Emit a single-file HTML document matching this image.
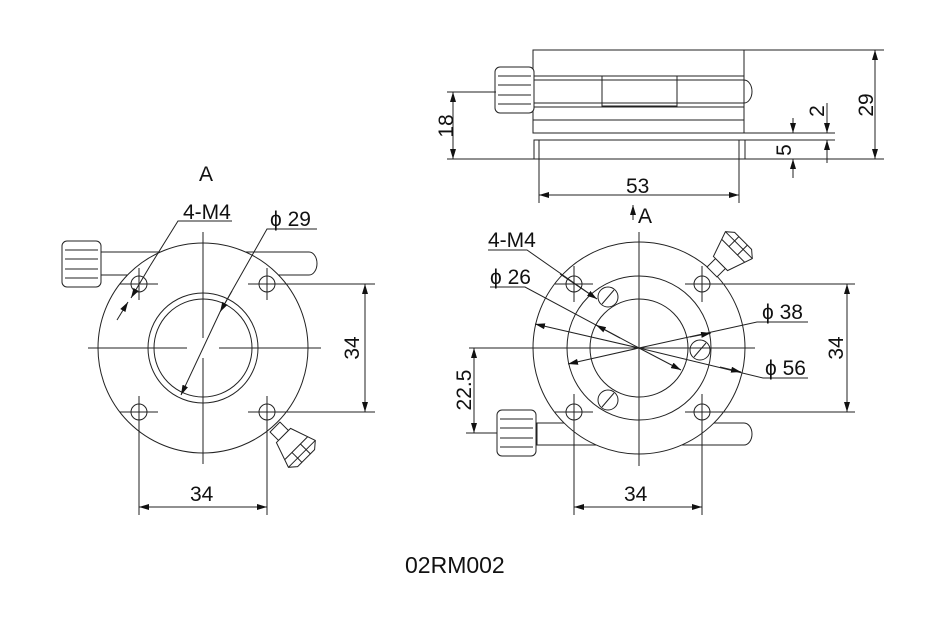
<!DOCTYPE html>
<html><head><style>body{margin:0;background:#fff}svg{display:block}text{font-family:"Liberation Sans",Arial,sans-serif;fill:#111}</style></head><body>
<svg width="945" height="630" viewBox="0 0 945 630" xmlns="http://www.w3.org/2000/svg">
<defs>
<marker id="a" viewBox="0 0 10 6" refX="10" refY="3" markerWidth="10" markerHeight="6" orient="auto-start-reverse" markerUnits="userSpaceOnUse"><path d="M0,0L10,3L0,6z" fill="#111"/></marker>
<g id="knobH"><rect x="0" y="0" width="39" height="46" rx="5" fill="#fff" stroke="#222"/><line x1="3" y1="9" x2="36" y2="9" stroke="#222"/><line x1="3" y1="18" x2="36" y2="18" stroke="#222"/><line x1="3" y1="28" x2="36" y2="28" stroke="#222"/><line x1="3" y1="37" x2="36" y2="37" stroke="#222"/></g>
<g id="knobA"><rect x="0" y="-7" width="12" height="14" fill="#fff" stroke="#222"/><path d="M12,-10L12,10L38,19L44,12L44,-12L38,-19Z" fill="#fff" stroke="#222"/><line x1="30" y1="-16" x2="30" y2="16" stroke="#222"/><line x1="38" y1="-19" x2="38" y2="19" stroke="#222"/><line x1="30" y1="-6" x2="44" y2="-6" stroke="#222"/><line x1="30" y1="6" x2="44" y2="6" stroke="#222"/></g>
</defs>
<g fill="none" stroke="#222" stroke-width="1">
<rect x="533" y="50" width="211" height="83"/>
<rect x="534" y="140" width="211" height="19"/>
<line x1="533" y1="76" x2="744" y2="76"/><line x1="533" y1="107" x2="744" y2="107"/><line x1="533" y1="120" x2="744" y2="120"/>
<path d="M533,80H744A8,11.5 0 0 1 744,103H533"/>
<rect x="602" y="76" width="75" height="30"/>
<use href="#knobH" x="495" y="67"/>
<line x1="447" y1="92" x2="496" y2="92"/><line x1="447" y1="159" x2="884" y2="159"/><line x1="744" y1="50" x2="884" y2="50"/>
<line x1="744" y1="133" x2="835" y2="133"/><line x1="745" y1="140" x2="835" y2="140"/>
<line x1="453" y1="92" x2="453" y2="159" marker-start="url(#a)" marker-end="url(#a)"/>
<line x1="875" y1="50" x2="875" y2="159" marker-start="url(#a)" marker-end="url(#a)"/>
<line x1="793" y1="118" x2="793" y2="133" marker-end="url(#a)"/><line x1="793" y1="178" x2="793" y2="159" marker-end="url(#a)"/>
<line x1="827" y1="103" x2="827" y2="133" marker-end="url(#a)"/><line x1="827" y1="163" x2="827" y2="140" marker-end="url(#a)"/>
<line x1="539" y1="140" x2="539" y2="203"/><line x1="739" y1="140" x2="739" y2="203"/>
<line x1="539" y1="195" x2="739" y2="195" marker-start="url(#a)" marker-end="url(#a)"/>
<path d="M101,252H309A8,11.5 0 0 1 309,275H101Z" fill="#fff"/>
<circle cx="203" cy="348" r="105" fill="#fff"/>
<use href="#knobH" x="62" y="241"/>
<circle cx="203" cy="348" r="55"/><circle cx="203" cy="348" r="49"/>
<line x1="88" y1="348" x2="187" y2="348"/><line x1="219" y1="348" x2="321" y2="348"/>
<line x1="203" y1="232" x2="203" y2="338"/><line x1="203" y1="358" x2="203" y2="464"/>
<g><circle cx="139" cy="284" r="8"/><circle cx="267" cy="284" r="8"/><circle cx="139" cy="412" r="8"/><circle cx="267" cy="412" r="8"/>
<line x1="120" y1="284" x2="158" y2="284"/><line x1="139" y1="268" x2="139" y2="300"/>
<line x1="248" y1="284" x2="375" y2="284"/><line x1="267" y1="268" x2="267" y2="300"/>
<line x1="120" y1="412" x2="158" y2="412"/><line x1="139" y1="396" x2="139" y2="515"/>
<line x1="248" y1="412" x2="375" y2="412"/><line x1="267" y1="396" x2="267" y2="515"/></g>
<use href="#knobA" transform="translate(275,427) rotate(45)"/>
<line x1="365" y1="284" x2="365" y2="412" marker-start="url(#a)" marker-end="url(#a)"/>
<line x1="139" y1="507" x2="267" y2="507" marker-start="url(#a)" marker-end="url(#a)"/>
<path d="M232,221H178L150,266"/><line x1="150" y1="266" x2="131" y2="298" marker-end="url(#a)"/><line x1="117" y1="320" x2="128" y2="302" marker-end="url(#a)"/>
<path d="M317,229H267L220,312"/><line x1="220" y1="312" x2="232" y2="291" marker-start="url(#a)"/><line x1="220" y1="312" x2="181" y2="395" marker-end="url(#a)"/>
<path d="M537,423H744A8,11 0 0 1 744,445H537Z" fill="#fff"/>
<circle cx="639" cy="348" r="106" fill="#fff"/>
<use href="#knobH" x="497" y="410"/>
<use href="#knobA" transform="translate(712,272) rotate(-45)"/>
<circle cx="639" cy="348" r="72"/><circle cx="639" cy="348" r="49"/>
<line x1="469" y1="348" x2="755" y2="348"/>
<line x1="639" y1="232" x2="639" y2="466"/>
<circle cx="574" cy="284" r="8"/><circle cx="702" cy="284" r="8"/><circle cx="574" cy="412" r="8"/><circle cx="702" cy="412" r="8"/>
<line x1="555" y1="284" x2="593" y2="284"/><line x1="574" y1="266" x2="574" y2="302"/>
<line x1="685" y1="284" x2="855" y2="284"/><line x1="702" y1="266" x2="702" y2="302"/>
<line x1="555" y1="412" x2="593" y2="412"/><line x1="574" y1="394" x2="574" y2="515"/>
<line x1="685" y1="412" x2="855" y2="412"/><line x1="702" y1="394" x2="702" y2="515"/>
<circle cx="608" cy="297" r="10"/><line x1="602" y1="304" x2="614" y2="290"/>
<circle cx="700" cy="350" r="10"/><line x1="694" y1="357" x2="706" y2="343"/>
<circle cx="608" cy="400" r="10"/><line x1="602" y1="407" x2="614" y2="393"/>
<line x1="847" y1="284" x2="847" y2="412" marker-start="url(#a)" marker-end="url(#a)"/>
<line x1="574" y1="507" x2="702" y2="507" marker-start="url(#a)" marker-end="url(#a)"/>
<line x1="466" y1="433" x2="497" y2="433"/>
<line x1="474" y1="348" x2="474" y2="433" marker-start="url(#a)" marker-end="url(#a)"/>
<path d="M488,250H527L597,299"/><line x1="560" y1="274" x2="597" y2="299" marker-end="url(#a)"/>
<path d="M490,287H525L639,348"/><line x1="620" y1="338" x2="596" y2="325" marker-end="url(#a)"/><line x1="639" y1="348" x2="681" y2="370" marker-end="url(#a)"/>
<path d="M808,322H757L639,348"/><line x1="639" y1="348" x2="568" y2="364" marker-end="url(#a)"/><line x1="690" y1="337" x2="711" y2="333" marker-end="url(#a)"/>
<path d="M808,378H763L639,348"/><line x1="639" y1="348" x2="535" y2="324" marker-end="url(#a)"/><line x1="720" y1="367" x2="741" y2="372" marker-end="url(#a)"/>
<line x1="633" y1="220" x2="633" y2="205" marker-end="url(#a)"/>
</g>
<g font-size="21">
<text x="626" y="193">53</text>
<text transform="translate(453,126) rotate(-90)" text-anchor="middle">18</text>
<text transform="translate(873,105) rotate(-90)" text-anchor="middle">29</text>
<text transform="translate(824,111) rotate(-90)" text-anchor="middle">2</text>
<text transform="translate(791,150) rotate(-90)" text-anchor="middle">5</text>
<text x="199" y="181">A</text>
<text x="183" y="219">4-M4</text>
<text x="270" y="226">ϕ 29</text>
<text transform="translate(359,348) rotate(-90)" text-anchor="middle">34</text>
<text x="190" y="501">34</text>
<text x="638" y="223">A</text>
<text x="488" y="247">4-M4</text>
<text x="490" y="284">ϕ 26</text>
<text x="762" y="319">ϕ 38</text>
<text x="765" y="375">ϕ 56</text>
<text transform="translate(843,348) rotate(-90)" text-anchor="middle">34</text>
<text transform="translate(471,390) rotate(-90)" text-anchor="middle">22.5</text>
<text x="624" y="501">34</text>
<text x="405" y="573" font-size="23">02RM002</text>
</g>
</svg>
</body></html>
